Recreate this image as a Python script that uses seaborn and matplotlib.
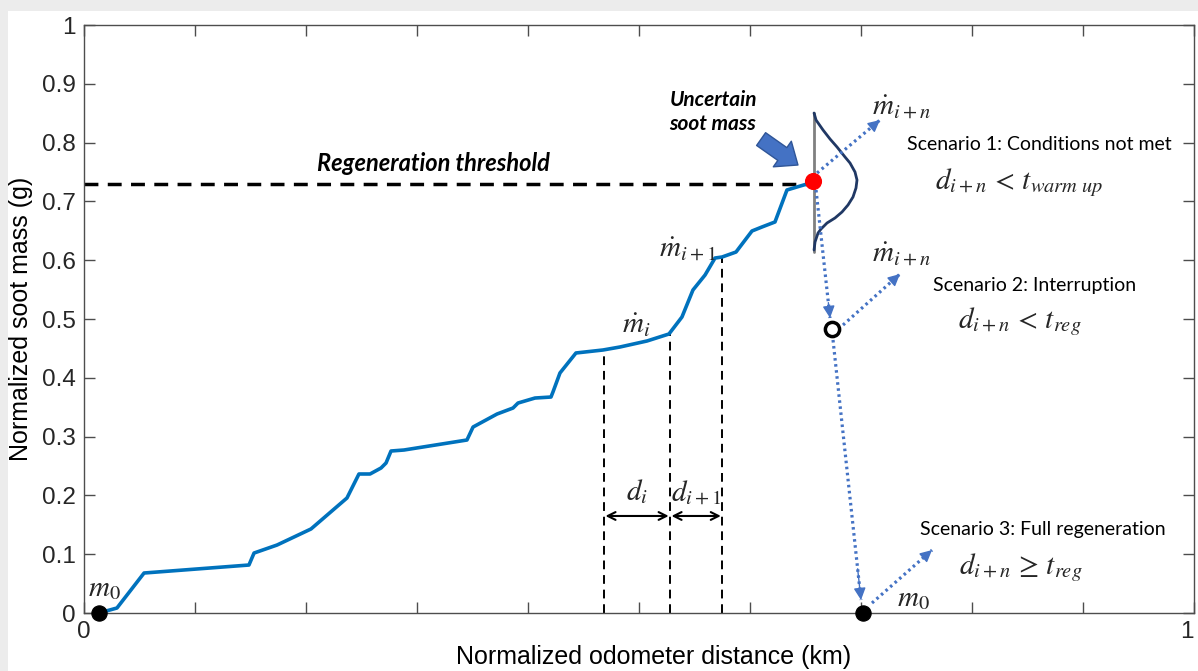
import matplotlib
matplotlib.use("Agg")
import matplotlib.pyplot as plt
import seaborn as sns
from matplotlib.patches import Rectangle

# soot mass curve
dist = [0.0135, 0.0297, 0.0541, 0.1486, 0.1532, 0.1739, 0.2045, 0.2369, 0.2477,
        0.2577, 0.2676, 0.2721, 0.2766, 0.2883, 0.3450, 0.3505, 0.3721, 0.3865,
        0.3910, 0.4063, 0.4207, 0.4225, 0.4288, 0.4432, 0.4676, 0.4829, 0.5072,
        0.5270, 0.5387, 0.5486, 0.5595, 0.5685, 0.5748, 0.5874, 0.6018, 0.6108,
        0.6225, 0.6333, 0.6423, 0.6514, 0.6568]
soot = [0.0, 0.0085, 0.068, 0.0816, 0.102, 0.1156, 0.1429, 0.1956, 0.2364,
        0.2364, 0.2466, 0.2551, 0.2755, 0.2772, 0.2942, 0.3163, 0.3384, 0.3486,
        0.3571, 0.3656, 0.3673, 0.3759, 0.4082, 0.4422, 0.4473, 0.4524, 0.4626,
        0.4745, 0.5034, 0.5493, 0.5748, 0.6037, 0.6054, 0.6139, 0.6497, 0.6565,
        0.6650, 0.7194, 0.7245, 0.7296, 0.7347]

threshold = 0.73
threshold_end = 0.651

# d_i / d_i+1 interval markers
interval_x = [0.4685, 0.528, 0.575]
interval_top = [0.447, 0.4745, 0.6054]
interval_arrow_y = 0.165

# uncertainty bell around the trigger point
bell_x = [0.6577, 0.6595, 0.6658, 0.6721, 0.6784, 0.6856, 0.6901, 0.6946, 0.6964,
          0.6955, 0.6928, 0.6883, 0.6829, 0.6766, 0.6694, 0.6640, 0.6613, 0.6586, 0.6577]
bell_y = [0.8503, 0.8384, 0.8214, 0.8061, 0.7925, 0.7755, 0.7653, 0.7500, 0.7364,
          0.7228, 0.7075, 0.6939, 0.6820, 0.6718, 0.6633, 0.6531, 0.6463, 0.6310, 0.6173]
gray_x = [0.6577, 0.6577]
gray_y = [0.614, 0.850]

# key states: start, trigger, interruption, full regeneration
start_pt = [0.0135, 0.0]
trigger_pt = [0.657, 0.735]
interrupt_pt = [0.674, 0.483]
regen_pt = [0.702, 0.0]

# dotted transitions (x0, y0, x1, y1)
transitions = [
    (0.6604, 0.7483, 0.7171, 0.8384),
    (0.6595, 0.7194, 0.6721, 0.5017),
    (0.6838, 0.4898, 0.7351, 0.5765),
    (0.6748, 0.4643, 0.7000, 0.0221),
    (0.7099, 0.0170, 0.7640, 0.1071),
]

blue = "#0072BD"
dot_blue = "#4472C4"

sns.set_theme(style="white")
plt.rcParams["font.family"] = ["Liberation Sans", "DejaVu Sans"]
plt.rcParams["mathtext.fontset"] = "stix"

fig = plt.figure(figsize=(11.98, 6.71), dpi=100)
fig.patch.set_facecolor("#ececec")
fig.patches.append(Rectangle((8 / 1198, 0), 1, 660 / 671, transform=fig.transFigure,
                             facecolor="white", edgecolor="none", zorder=-10))
ax = fig.add_axes([84 / 1198, 58 / 671, 1110 / 1198, 588 / 671])
ax.set_facecolor("white")

# threshold and interval guides
ax.plot([0, threshold_end], [threshold, threshold], color="black", lw=2.5,
        linestyle=(0, (4, 2.7)))
for xv, top in zip(interval_x, interval_top):
    ax.plot([xv, xv], [0, top], color="black", lw=1.4, linestyle=(0, (4.5, 3)))
for a, b in zip(interval_x[:-1], interval_x[1:]):
    ax.annotate("", xy=(b, interval_arrow_y), xytext=(a, interval_arrow_y),
                arrowprops=dict(arrowstyle="<->", color="black", lw=1.5,
                                shrinkA=1, shrinkB=1, mutation_scale=14))

sns.lineplot(x=dist, y=soot, sort=False, color=blue, lw=2.6, ax=ax, zorder=3)

# uncertainty
ax.plot(gray_x, gray_y, color="#808080", lw=2, zorder=3)
ax.plot(bell_x, bell_y, color="#203864", lw=2, zorder=3)

# transitions
for x0, y0, x1, y1 in transitions:
    ax.plot([x0, x1], [y0, y1], color=dot_blue, lw=2.3, linestyle=(0, (0.8, 1.1)),
            zorder=4)
    hx = x1 - 0.12 * (x1 - x0)
    hy = y1 - 0.12 * (y1 - y0)
    ax.annotate("", xy=(x1, y1), xytext=(hx, hy),
                arrowprops=dict(arrowstyle="-|>,head_length=0.6,head_width=0.3",
                                color=dot_blue, lw=1, shrinkA=0, shrinkB=0,
                                mutation_scale=12), zorder=4)

sns.scatterplot(x=[start_pt[0], regen_pt[0]], y=[start_pt[1], regen_pt[1]],
                color="black", s=120, edgecolor="black", ax=ax, zorder=6, clip_on=False)
sns.scatterplot(x=[trigger_pt[0]], y=[trigger_pt[1]], color="#FF0000", s=130,
                edgecolor="#FF0000", ax=ax, zorder=6)
sns.scatterplot(x=[interrupt_pt[0]], y=[interrupt_pt[1]], color="white", s=105,
                edgecolor="black", linewidth=2.5, ax=ax, zorder=6)

# block arrow pointing at the uncertain mass
ax.annotate("", xy=(0.6432, 0.7619), xytext=(0.6100, 0.8060),
            arrowprops=dict(arrowstyle="simple,head_length=0.55,head_width=0.9,tail_width=0.45",
                            fc="#4472C4", ec="#2F5597", lw=1, mutation_scale=25,
                            shrinkA=0, shrinkB=0))

bi = dict(family=["Lato", "DejaVu Sans"], fontweight="bold", fontstyle="italic",
          color="black")
ax.text(0.3144, 0.7653, "Regeneration threshold", ha="center", va="center",
        fontsize=17, **bi)
ax.text(0.5667, 0.852, "Uncertain\nsoot mass", ha="center", va="center",
        fontsize=15, linespacing=1.25, **bi)

cal = dict(family=["Lato", "DejaVu Sans"], color="black", fontsize=14)
ax.text(0.8604, 0.796, "Scenario 1: Conditions not met", ha="center", va="center", **cal)
ax.text(0.8568, 0.5578, "Scenario 2: Interruption", ha="center", va="center", **cal)
ax.text(0.8640, 0.1412, "Scenario 3: Full regeneration", ha="center", va="center", **cal)

mfs = 21
ax.text(0.8423, 0.7313, r"$d_{i+n}\,<\,t_{warm\ up}$", ha="center", va="center", fontsize=mfs)
ax.text(0.8432, 0.4949, r"$d_{i+n}\,<\,t_{reg}$", ha="center", va="center", fontsize=mfs)
ax.text(0.8441, 0.0765, r"$d_{i+n}\,\geq\,t_{reg}$", ha="center", va="center", fontsize=mfs)

ax.text(0.736, 0.862, r"$\dot{m}_{i+n}$", ha="center", va="center", fontsize=mfs)
ax.text(0.736, 0.612, r"$\dot{m}_{i+n}$", ha="center", va="center", fontsize=mfs)
ax.text(0.4973, 0.4898, r"$\dot{m}_{i}$", ha="center", va="center", fontsize=mfs)
ax.text(0.5441, 0.6207, r"$\dot{m}_{i+1}$", ha="center", va="center", fontsize=mfs)
ax.text(0.4982, 0.2058, r"$d_{i}$", ha="center", va="center", fontsize=mfs)
ax.text(0.5514, 0.2058, r"$d_{i+1}$", ha="center", va="center", fontsize=mfs)
ax.text(0.0180, 0.0425, r"$m_0$", ha="center", va="center", fontsize=mfs)
ax.text(0.7468, 0.0255, r"$m_0$", ha="center", va="center", fontsize=mfs)

# axes styling (MATLAB-like box)
ax.set_xlim(0, 1)
ax.set_ylim(0, 1)
xt = [i / 10 for i in range(11)]
ax.set_xticks(xt)
ax.set_xticklabels(["0"] + [""] * 9 + ["1"])
ax.set_yticks(xt)
ax.set_yticklabels(["0"] + [f"{v:.1f}" for v in xt[1:-1]] + ["1"])
ax.tick_params(direction="in", length=8, width=1, colors="#4d4d4d", labelcolor="#262626",
               labelsize=17.5, top=True, right=True, left=True, bottom=True, pad=6)
ax.get_xticklabels()[-1].set_horizontalalignment("right")
for s in ax.spines.values():
    s.set_color("#4d4d4d")
    s.set_linewidth(1)
ax.set_xlabel("Normalized odometer distance (km)", fontsize=18, color="black")
ax.xaxis.set_label_coords(0.513, -0.055, transform=ax.transAxes)
ax.xaxis.label.set_va("top")
ax.set_ylabel("Normalized soot mass (g)", fontsize=18, color="black", labelpad=6)

fig.savefig("out.png", dpi=100, facecolor=fig.get_facecolor())
